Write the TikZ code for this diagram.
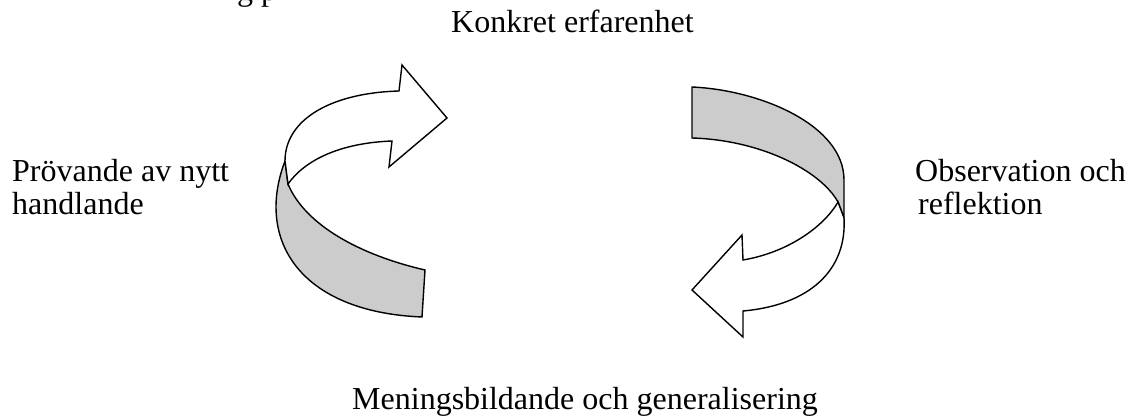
\documentclass[tikz,border=0pt]{standalone}
\usepackage{fontspec}
\setmainfont{Liberation Serif}
\begin{document}
\begin{tikzpicture}[x=1pt,y=-1pt,
  lbl/.style={anchor=base west,inner sep=0pt,font=\fontsize{32}{38}\selectfont},
  band/.style={draw=black,line width=1.4pt,line join=miter},
  backside/.style={band,fill=gray!40},
  frontside/.style={band,fill=white}]
\useasboundingbox (0,0) rectangle (1128,419);
% texts
\node[lbl] (frag) at (237,1) {g p};
\node[lbl] (konkret) at (451,33) {Konkret erfarenhet};
\node[lbl] (prov1) at (12,182) {Prövande av nytt};
\node[lbl] (prov2) at (12,215) {handlande};
\node[lbl] (obs1) at (915,182) {Observation och};
\node[lbl] (obs2) at (910,215) {\ reflektion};
\node[lbl] (men) at (352,410) {Meningsbildande och generalisering};
% left arrow: back (gray) band
\draw[backside] (285,161) .. controls (255,240) and (300,312) .. (422,317)
  -- (425,270) .. controls (360,255) and (305,225) .. (288,184) -- cycle;
% left arrow: front (white) band with head
\draw[frontside] (285,161) .. controls (285,120) and (330,93) .. (399,91)
  -- (402,65) -- (447,118) -- (389,167) -- (392,141)
  .. controls (340,143) and (305,160) .. (288,184) -- cycle;
% right arrow: back (gray) band
\draw[backside] (692,87) .. controls (760,90) and (844,125) .. (844,180)
  -- (844,218) -- (838,202) .. controls (820,170) and (760,140) .. (692,138) -- cycle;
% right arrow: front (white) band with head
\draw[frontside] (844,218) .. controls (847,270) and (810,305) .. (743,311)
  -- (743,337) -- (692,290) -- (742,235) -- (743,260)
  .. controls (790,252) and (825,225) .. (838,202) -- cycle;
\end{tikzpicture}
\end{document}
